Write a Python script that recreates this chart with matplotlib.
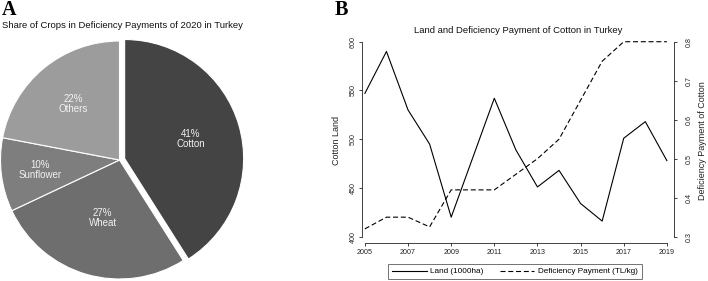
import matplotlib
matplotlib.use("Agg")
import matplotlib.pyplot as plt
import numpy as np

# ---- data ----
crops = ["Cotton", "Wheat", "Sunflower", "Others"]
shares = [41, 27, 10, 22]
crop_colors = ["#444444", "#6e6e6e", "#7e7e7e", "#9c9c9c"]

years = [2005, 2006, 2007, 2008, 2009, 2010, 2011, 2012, 2013, 2014, 2015, 2016, 2017, 2018, 2019]
land = [547, 590, 530, 495, 420, 481, 542, 489, 451, 468, 434, 416, 501, 518, 478]
payment = [0.32, 0.35, 0.35, 0.325, 0.42, 0.42, 0.42, 0.46, 0.50, 0.55, 0.65, 0.75, 0.80, 0.80, 0.80]

left_ticks = [400, 450, 500, 550, 600]
right_ticks = [0.3, 0.4, 0.5, 0.6, 0.7, 0.8]
x_ticks = [2005, 2007, 2009, 2011, 2013, 2015, 2017, 2019]

plt.rcParams['font.family'] = ['Liberation Sans', 'DejaVu Sans']

W, H = 708, 281
fig = plt.figure(figsize=(W / 100, H / 100), dpi=100)

def fx(px):
    return px / W

def fy(py):
    return 1 - py / H

# ---- Panel A: pie ----
cx, cy, r = 119.5, 160, 119
axp = fig.add_axes([fx(cx - r), fy(cy + r), 2 * r / W, 2 * r / H])
wedges, _ = axp.pie(shares, colors=crop_colors, startangle=90, counterclock=False,
                    explode=[0.045, 0, 0, 0], radius=1.0,
                    wedgeprops=dict(edgecolor="white", linewidth=0.8))
axp.set_xlim(-1, 1)
axp.set_ylim(-1, 1)
axp.set_aspect("auto")
axp.axis("off")
label_r = [0.58, 0.51, 0.67, 0.61]
for w, name, s, lr in zip(wedges, crops, shares, label_r):
    ang = np.deg2rad((w.theta1 + w.theta2) / 2)
    ccx, ccy = w.center
    axp.text(ccx + lr * np.cos(ang), ccy + lr * np.sin(ang), f"{s}%\n{name}",
             ha="center", va="center", color="#f2f2f2", fontsize=7, linespacing=1.05)

fig.text(fx(2), fy(10), "A", family="Liberation Serif", fontweight="bold", fontsize=14.5,
         ha="left", va="center")
fig.text(fx(2.5), fy(25), "Share of Crops in Deficiency Payments of 2020 in Turkey",
         fontsize=6.8, ha="left", va="center", color="#111111")

# ---- Panel B: lines ----
ax = fig.add_axes([fx(362.3), fy(243), fx(674) - fx(362.3), fy(38.8) - fy(243)])
ylo, yhi = 393.5, 603
ax.set_ylim(ylo, yhi)
ax.set_xlim(2004.88, 2019.33)
l1, = ax.plot(years, land, color="black", linewidth=0.8, label="Land (1000ha)")
ax2 = ax.twinx()
ax2.set_ylim(0.3 + (ylo - 400) / 400, 0.3 + (yhi - 400) / 400)
l2, = ax2.plot(years, payment, color="black", linewidth=0.8, linestyle=(0, (4.5, 2.5)),
               label="Deficiency Payment (TL/kg)")

for a in (ax, ax2):
    a.spines["top"].set_visible(False)
ax.spines["right"].set_visible(False)
ax2.spines["left"].set_visible(False)
ax2.spines["bottom"].set_visible(False)
ax.spines["left"].set_bounds(400, 600)
ax.spines["bottom"].set_bounds(2005, 2019)
ax2.spines["right"].set_bounds(0.3, 0.8)
for sp in list(ax.spines.values()) + list(ax2.spines.values()):
    sp.set_linewidth(0.6)
    sp.set_color("#222222")

ax.set_xticks(x_ticks)
ax.set_xticklabels([str(t) for t in x_ticks])
ax.set_yticks(left_ticks)
ax.set_yticklabels([str(t) for t in left_ticks], rotation=90, va="center")
ax2.set_yticks(right_ticks)
ax2.set_yticklabels([f"{t:.1f}" for t in right_ticks], rotation=90, va="center")
ax.tick_params(axis="both", direction="out", length=2.5, width=0.6, labelsize=5.1,
               pad=1.5, color="#222222", labelcolor="#222222")
ax2.tick_params(axis="y", direction="out", length=2.5, width=0.6, labelsize=5.1,
                pad=6, color="#222222", labelcolor="#222222")

ax.set_ylabel("Cotton Land", fontsize=6.5, color="#222222", labelpad=6)
ax2.set_ylabel("Deficiency Payment of Cotton", fontsize=6.5, color="#222222", rotation=90,
               labelpad=4)
ax.set_title("Land and Deficiency Payment of Cotton in Turkey", fontsize=6.8,
             color="#111111", pad=4)

fig.text(fx(335), fy(10), "B", family="Liberation Serif", fontweight="bold", fontsize=14.5,
         ha="left", va="center")

leg = fig.legend(handles=[l1, l2], loc="center", bbox_to_anchor=(fx(515), fy(271.5)),
                 ncol=2, fontsize=5.9, frameon=True, fancybox=False, handlelength=4.2,
                 handletextpad=0.4, columnspacing=2.0, borderpad=0.5, borderaxespad=0)
leg.get_frame().set_edgecolor("#333333")
leg.get_frame().set_linewidth(0.6)

fig.savefig("out.png", dpi=100)
